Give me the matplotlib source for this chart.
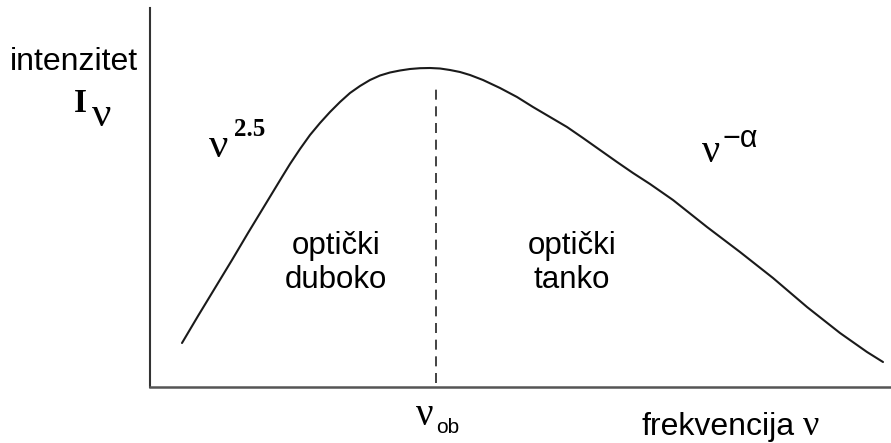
import numpy as np
from matplotlib import pyplot as plt

# spectrum (arbitrary units)
freq = [32, 48, 65, 82, 98, 115, 132, 140, 150, 160, 170, 180, 190, 200,
        210, 220, 230, 240, 250, 260, 270, 280, 290, 300, 310, 320, 333,
        350, 367, 383, 400, 417, 433, 450, 467, 483, 500, 523, 557, 590,
        623, 657, 690, 717, 733]
inten = [44, 71, 99, 127, 154, 182, 210, 223, 238, 252, 264, 275, 285, 294,
         301, 307, 311.5, 314.5, 316.5, 318, 318.8, 319, 318.5, 317, 315,
         312, 307, 299, 290, 280, 270, 260, 249, 237, 225, 214, 203, 187,
         160, 135, 109, 80, 54, 35, 25]
nu_ob = 286
nu_ob_top = 299

SANS = 'Liberation Sans'
SERIF = 'Liberation Serif'

fig = plt.figure(figsize=(8.91, 4.43), dpi=100)
ax = fig.add_axes([150/891, 56/443, 741/891, 379/443])

ax.plot(freq, inten, color='#1a1a1a', lw=1.5, solid_capstyle='round',
        solid_joinstyle='round')
ax.plot([nu_ob, nu_ob], [4, nu_ob_top], color='#222222', lw=1.2,
        linestyle=(0, (6, 4)))

ax.set_xlim(0, 741)
ax.set_ylim(0, 379)
ax.set_xticks([])
ax.set_yticks([])
ax.spines['top'].set_visible(False)
ax.spines['right'].set_visible(False)
ax.spines['left'].set_color('#333333')
ax.spines['left'].set_linewidth(1.5)
ax.spines['bottom'].set_color('#555555')
ax.spines['bottom'].set_linewidth(1.8)

# text positions given in picture pixels
def put(x, y, s, **kw):
    ax.text(x - 150, 387 - y, s, va='baseline', clip_on=False, **kw)

put(10, 70, 'intenzitet', family=SANS, fontsize=23)
put(74, 112, 'I', family=SERIF, fontsize=24, fontweight='bold')
put(92, 126, 'ν', family=SERIF, fontsize=31)

put(209, 157, 'ν', family=SERIF, fontsize=31)
put(234, 136, '2.5', family=SERIF, fontsize=18, fontweight='bold')

put(702, 162, 'ν', family=SERIF, fontsize=29)
put(722, 147, '−α', family=SANS, fontsize=22)

put(336, 254, 'optički', family=SANS, fontsize=22.5, ha='center')
put(336, 288, 'duboko', family=SANS, fontsize=22.5, ha='center')
put(572, 254, 'optički', family=SANS, fontsize=22.5, ha='center')
put(572, 288, 'tanko', family=SANS, fontsize=22.5, ha='center')

put(416, 425, 'ν', family=SERIF, fontsize=28)
put(436, 433, 'ob', family=SANS, fontsize=15)

put(641, 435, 'frekvencija', family=SANS, fontsize=23)
put(803, 435, 'ν', family=SERIF, fontsize=26)

plt.savefig('out.png', dpi=100)
